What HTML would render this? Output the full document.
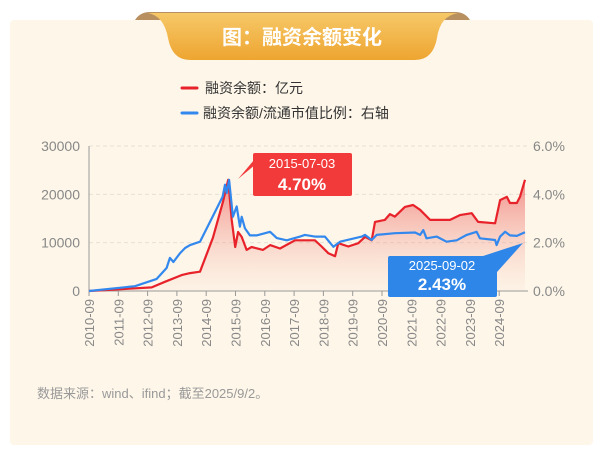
<!DOCTYPE html>
<html><head><meta charset="utf-8"><style>
body{margin:0;width:603px;height:456px;background:#fff;font-family:"Liberation Sans","Noto Sans CJK SC",sans-serif;overflow:hidden}
</style></head><body>
<svg width="603" height="456" style="position:absolute;left:0;top:0">
<defs>
<linearGradient id="tab" x1="0" y1="0" x2="0" y2="1"><stop offset="0" stop-color="#f6c868"/><stop offset="1" stop-color="#eea530"/></linearGradient>
<linearGradient id="fill" x1="0" y1="0" x2="0" y2="1"><stop offset="0" stop-color="#e83a3a" stop-opacity="0.55"/><stop offset="1" stop-color="#f6b0a0" stop-opacity="0.05"/></linearGradient>
</defs>
<rect x="10" y="20" width="583" height="425" rx="4" fill="#fdf6e9"/>
<path d="M135,20 Q140,12 150,12 L455,12 Q465,12 470,20 Z" fill="#b89060"/>
<path d="M148,13 L458,13 Q440,16 437,38 Q433,60 415,60 L190,60 Q172,60 168,38 Q164,16 148,13 Z" fill="url(#tab)"/>
<text x="302" y="44" text-anchor="middle" font-size="20" font-weight="bold" fill="#fff">图：融资余额变化</text>
<line x1="182" y1="88" x2="197" y2="88" stroke="#e8222a" stroke-width="3" stroke-linecap="round"/>
<text x="205" y="93" font-size="14" fill="#333">融资余额：亿元</text>
<line x1="182" y1="113" x2="197" y2="113" stroke="#3388ee" stroke-width="3" stroke-linecap="round"/>
<text x="203" y="118" font-size="14" fill="#333">融资余额/流通市值比例：右轴</text>
<g id="plot"></g>
<text x="37" y="398" font-size="13" fill="#999">数据来源：wind、ifind；截至2025/9/2。</text>
</svg>
<script>
const leftTicks=[0,10000,20000,30000];
const rightTicks=["0.0%","2.0%","4.0%","6.0%"];
const xLabels=["2010-09","2011-09","2012-09","2013-09","2014-09","2015-09","2016-09","2017-09","2018-09","2019-09","2020-09","2021-09","2022-09","2023-09","2024-09"];
const balTime=[2010.7,2012.84,2013.29,2013.86,2014.15,2014.49,2014.93,2015.27,2015.45,2015.57,2015.69,2015.79,2015.91,2016.08,2016.25,2016.64,2016.88,2017.22,2017.73,2018.41,2018.64,2018.87,2019.1,2019.21,2019.55,2019.89,2020.12,2020.35,2020.46,2020.8,2020.97,2021.14,2021.48,2021.76,2022.0,2022.34,2023.02,2023.36,2023.76,2023.98,2024.56,2024.73,2024.96,2025.07,2025.3,2025.41,2025.58];
const balValues=[0,750,1900,3300,3700,4000,11000,18400,23000,14700,9100,12200,11200,8500,9100,8500,9500,8800,10500,10500,9200,7800,7200,9900,9200,9900,11200,10500,14300,14700,15900,15400,17400,17800,16800,14700,14700,15700,16100,14300,14000,18800,19500,18200,18200,19500,23000];
const ratioTime=[2010.7,2012.27,2013.01,2013.35,2013.46,2013.58,2013.81,2013.98,2014.15,2014.49,2014.93,2015.26,2015.34,2015.4,2015.48,2015.61,2015.74,2015.85,2015.91,2016.02,2016.19,2016.42,2016.88,2017.11,2017.45,2017.9,2018.07,2018.41,2018.75,2019.04,2019.27,2020.01,2020.12,2020.35,2020.52,2021.14,2021.83,2022.0,2022.11,2022.22,2022.57,2022.9,2023.25,2023.59,2023.93,2024.04,2024.56,2024.61,2024.73,2024.9,2025.07,2025.3,2025.58];
const ratioValues=[0,0.2,0.5,0.95,1.37,1.2,1.57,1.78,1.9,2.04,3.1,3.9,4.4,4.05,4.6,3.07,3.5,2.66,3.07,2.6,2.3,2.3,2.45,2.19,2.1,2.25,2.32,2.25,2.25,1.83,2.04,2.25,2.32,2.11,2.32,2.39,2.42,2.32,2.52,2.18,2.25,2.04,2.1,2.32,2.45,2.18,2.11,1.9,2.25,2.45,2.3,2.28,2.43];
const X0=89,XS=29.3,Y0=291,YT=146;
const xs=t=>X0+(t-2010.7)*XS;
const yl=v=>Y0-(v/30000)*(Y0-YT);
const yr=v=>Y0-(v/6)*(Y0-YT);
const NS="http://www.w3.org/2000/svg";
const g=document.getElementById('plot');
function mk(tag,a){const e=document.createElementNS(NS,tag);for(const k in a)e.setAttribute(k,a[k]);g.appendChild(e);return e;}
leftTicks.forEach((v,i)=>{
 if(v>0){const l=mk('line',{x1:X0,x2:528,y1:yl(v),y2:yl(v),stroke:'#e8e2d6','stroke-dasharray':'4 3'});
 
 }
 const t=mk('text',{x:80,y:yl(v)+5,'text-anchor':'end','font-size':14,fill:'#888'});t.textContent=v;
 
 
 const r=mk('text',{x:533,y:yl(v)+5,'font-size':14,fill:'#888'});r.textContent=rightTicks[i];
 
 
});
const ax=mk('line',{x1:X0,x2:X0,y1:YT,y2:Y0,stroke:'#999'});


const bx=mk('line',{x1:X0,x2:528,y1:Y0,y2:Y0,stroke:'#999'});


xLabels.forEach((s,i)=>{
 const x=X0+i*XS;
 const tk=mk('line',{x1:x,x2:x,y1:Y0,y2:Y0+5,stroke:'#999'});
 
 
 const t=mk('text',{x:x+5,y:Y0+8,'text-anchor':'end','font-size':13,fill:'#888',transform:`rotate(-90 ${x+5} ${Y0+8})`});t.textContent=s;
 
 
});
let pts=balTime.map((t,i)=>xs(t).toFixed(1)+','+yl(balValues[i]).toFixed(1));
const area=mk('path',{d:'M'+xs(balTime[0])+','+Y0+' L'+pts.join(' L')+' L'+xs(balTime[balTime.length-1])+','+Y0+'Z',fill:'url(#fill)'});


const red=mk('polyline',{points:pts.join(' '),fill:'none',stroke:'#e8222a','stroke-width':2.2,'stroke-linejoin':'round'});


const blue=mk('polyline',{points:ratioTime.map((t,i)=>xs(t).toFixed(1)+','+yr(ratioValues[i]).toFixed(1)).join(' '),fill:'none',stroke:'#3388ee','stroke-width':2.2,'stroke-linejoin':'round'});


const c1=mk('rect',{x:253,y:153,width:99,height:43,rx:2,fill:'#f23a3a'});


const p1=mk('path',{d:'M254,160 L238,179 L268,154 Z',fill:'#f23a3a'});


let t1=mk('text',{x:302,y:168,'text-anchor':'middle','font-size':13,fill:'#fff'});t1.textContent='2015-07-03';


let t2=mk('text',{x:302,y:190,'text-anchor':'middle','font-size':17,'font-weight':'bold',fill:'#fff'});t2.textContent='4.70%';


const c2=mk('rect',{x:388,y:256,width:109,height:41,rx:2,fill:'#2e86e8'});


const p2=mk('path',{d:'M480,257 L523,243 L497,272 Z',fill:'#2e86e8'});


let t3=mk('text',{x:442,y:270,'text-anchor':'middle','font-size':13,fill:'#fff'});t3.textContent='2025-09-02';


let t4=mk('text',{x:442,y:290,'text-anchor':'middle','font-size':17,'font-weight':'bold',fill:'#fff'});t4.textContent='2.43%';


</script>
</body></html>
